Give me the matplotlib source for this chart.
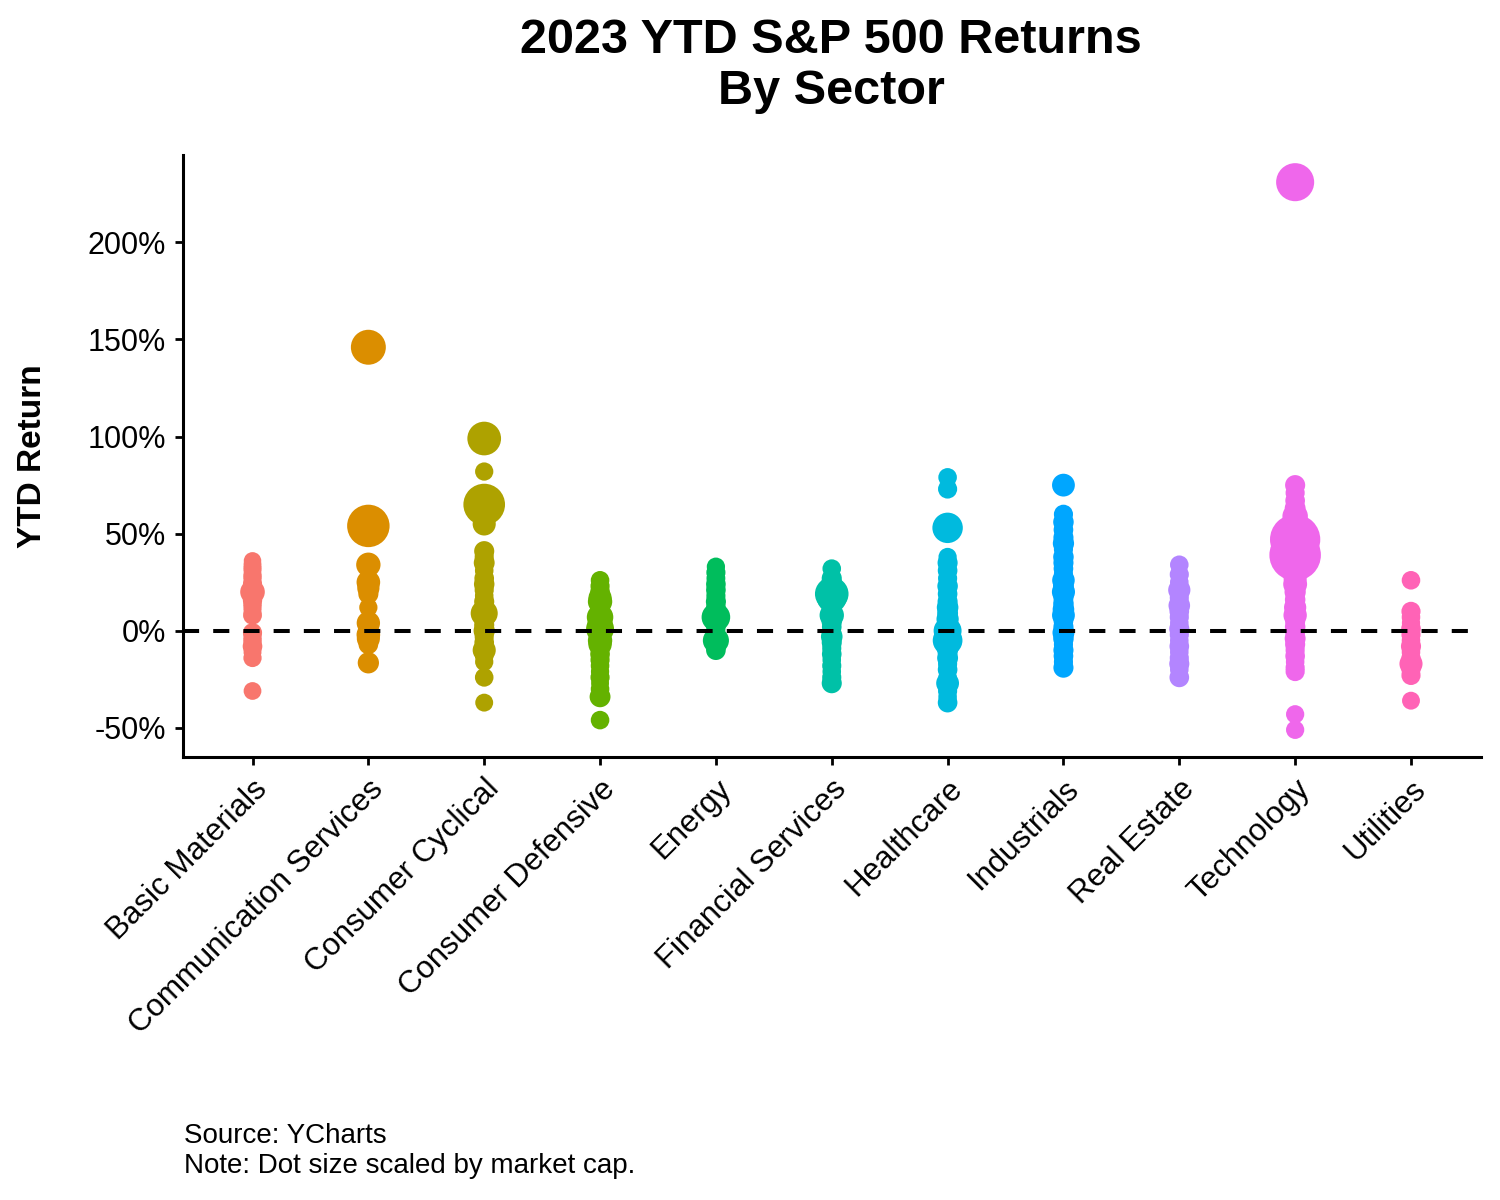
import numpy as np
import matplotlib
matplotlib.use('Agg')
import matplotlib.pyplot as plt

plt.rcParams['font.family'] = ['Liberation Sans', 'DejaVu Sans']

# sectors (x categories)
sectors = ['Basic Materials', 'Communication Services', 'Consumer Cyclical',
           'Consumer Defensive', 'Energy', 'Financial Services', 'Healthcare',
           'Industrials', 'Real Estate', 'Technology', 'Utilities']

# YTD return (%) and market cap ($B) per stock
bm_ret = [36, 34, 32, 30, 28, 26, 24, 22, 20, 18, 16, 14, 12, 10, 8, -1, -3, -5, -8, -11, -14, -31]
bm_cap = [15, 20, 25, 18, 30, 22, 40, 35, 210, 60, 45, 30, 25, 20, 35, 40, 25, 30, 50, 20, 25, 18]

cs_ret = [146, 54, 34, 25, 22, 19, 12, 4, 1, -2, -4, -7, -16.5]
cs_cap = [900, 1700, 200, 170, 120, 60, 25, 160, 60, 170, 150, 50, 90]

cc_ret = [99, 82, 65, 55, 41, 38, 35, 31, 27, 24, 21, 18, 15, 12, 9, 6, 3, 0, -3, -6, -10, -13, -16, -24, -37]
cc_cap = [790, 25, 1600, 150, 60, 40, 80, 30, 50, 70, 40, 30, 60, 50, 330, 40, 60, 90, 40, 50, 150, 30, 25, 30, 20]

cd_ret = [26, 23, 20, 17, 15, 12, 10, 7, 5, 3, 1, -1, -3, -5, -7, -9, -12, -15, -18, -21, -24, -27, -30, -34, -46]
cd_cap = [30, 40, 50, 150, 200, 60, 40, 300, 50, 250, 380, 80, 60, 200, 160, 30, 50, 40, 30, 25, 40, 20, 30, 80, 30]

en_ret = [33, 30, 27, 24, 21, 18, 15, 12, 9, 7, 4, 1, -2, -5, -8, -10]
en_cap = [25, 40, 35, 50, 50, 40, 60, 50, 70, 420, 90, 40, 50, 280, 60, 50]

fs_ret = [32, 27, 24, 21, 19, 17, 15, 13, 10, 8, 5, 2, -1, -3, -6, -9, -12, -15, -18, -21, -24, -27]
fs_cap = [30, 60, 100, 150, 780, 500, 120, 80, 60, 200, 70, 50, 40, 100, 60, 40, 50, 30, 40, 30, 40, 60]

hc_ret = [79, 73, 53, 38, 35, 31, 27, 23, 19, 15, 12, 9, 6, 3, 0, -2, -5, -8, -11, -14, -17, -20, -24, -27, -31, -34, -37]
hc_cap = [30, 40, 540, 25, 60, 50, 40, 70, 50, 60, 100, 80, 120, 90, 380, 200, 490, 150, 60, 80, 40, 50, 30, 140, 40, 30, 50]

ind_ret = [75, 60, 56, 52, 48, 45, 42, 38, 35, 32, 29, 26, 23, 20, 17, 14, 11, 8, 5, 2, -1, -4, -7, -10, -13, -16, -19]
ind_cap = [140, 40, 70, 50, 60, 90, 40, 70, 60, 50, 40, 130, 80, 150, 60, 70, 100, 140, 50, 60, 110, 70, 40, 60, 50, 40, 60]

re_ret = [34, 29, 25, 21, 17, 13, 10, 7, 4, 1, -2, -5, -8, -11, -14, -17, -20, -24]
re_cap = [30, 40, 30, 120, 40, 100, 50, 40, 30, 60, 40, 30, 50, 30, 40, 60, 30, 50]

tech_ret = [231, 75, 71, 67, 63, 59, 55, 47, 39, 51, 43, 35, 31, 27, 24, 20, 16, 12, 8, 5, 2, -1, -4, -7, -10, -13, -16, -19, -21, -43, -51]
tech_cap = [1200, 60, 40, 50, 80, 250, 90, 2800, 3000, 550, 300, 100, 200, 150, 180, 90, 70, 120, 160, 60, 70, 50, 80, 60, 40, 50, 30, 40, 40, 25, 25]

ut_ret = [26, 10, 7, 4, 1, -2, -5, -8, -11, -14, -17, -19, -21, -23, -36]
ut_cap = [30, 40, 30, 25, 50, 40, 30, 60, 30, 40, 150, 50, 30, 40, 20]

returns = [bm_ret, cs_ret, cc_ret, cd_ret, en_ret, fs_ret, hc_ret, ind_ret, re_ret, tech_ret, ut_ret]
caps = [bm_cap, cs_cap, cc_cap, cd_cap, en_cap, fs_cap, hc_cap, ind_cap, re_cap, tech_cap, ut_cap]

# ggplot default hue palette for 11 groups
colors = ['#F8766D', '#DB8E00', '#AEA200', '#64B200', '#00BD5C', '#00C1A7',
          '#00BADE', '#00A6FF', '#B385FF', '#EF67EB', '#FF63B6']

all_caps = np.concatenate([np.array(c, dtype=float) for c in caps])
all_ret = np.concatenate([np.array(r, dtype=float) for r in returns])
smin, smax = np.sqrt(all_caps.min()), np.sqrt(all_caps.max())


def cap_to_area(c):
    # diameter (px at dpi 100) scaled by sqrt of market cap, like scale_size
    d_px = 17.5 + 34 * (np.sqrt(np.asarray(c, dtype=float)) - smin) / (smax - smin)
    d_pt = d_px * 72 / 100
    return d_pt ** 2


fig = plt.figure(figsize=(15, 12), dpi=100)
ax = fig.add_axes([0.122, 0.369, 0.865, 0.502])

for i, (r, c) in enumerate(zip(returns, caps)):
    ax.scatter(np.full(len(r), i + 1), r, s=cap_to_area(c), color=colors[i],
               linewidths=0, zorder=2)

ax.axhline(0, color='black', linewidth=2.9, linestyle=(0, (4, 3.5)), zorder=3)

rng = all_ret.max() - all_ret.min()
ax.set_ylim(all_ret.min() - 0.05 * rng, all_ret.max() + 0.05 * rng)
ax.set_xlim(0.4, len(sectors) + 0.6)

yt = [-50, 0, 50, 100, 150, 200]
ax.set_yticks(yt)
ax.set_yticklabels([f'{v}%' for v in yt])
ax.set_xticks(range(1, len(sectors) + 1))
ax.set_xticklabels(sectors, rotation=45, ha='right', va='top', rotation_mode='anchor')

for s in ['top', 'right']:
    ax.spines[s].set_visible(False)
for s in ['left', 'bottom']:
    ax.spines[s].set_linewidth(2.2)
ax.tick_params(axis='both', length=6, width=2, labelsize=22, colors='black', pad=6)
ax.tick_params(axis='x', labelsize=22.5)

fig.text(0.554, 0.945, '2023 YTD S&P 500 Returns\nBy Sector', ha='center', va='center',
         fontsize=35, fontweight='bold', linespacing=1.15)
fig.text(0.022, 0.62, 'YTD Return', rotation=90, ha='center', va='center',
         fontsize=24, fontweight='bold')
fig.text(0.123, 0.041, 'Source: YCharts\nNote: Dot size scaled by market cap.',
         ha='left', va='center', fontsize=20, linespacing=1.2)

fig.savefig('out.png', dpi=100)
